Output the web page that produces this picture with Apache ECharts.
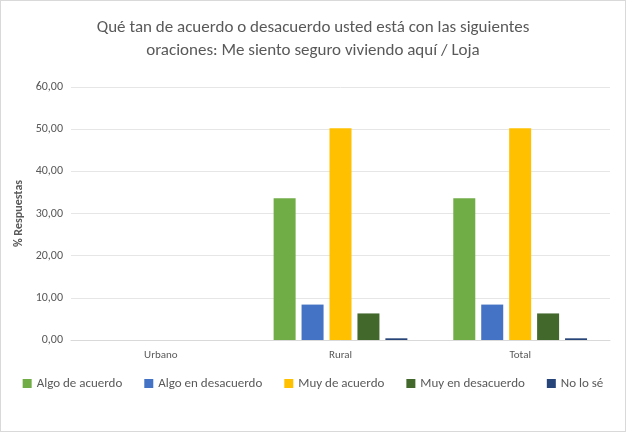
<!DOCTYPE html>
<html>
<head>
<meta charset="utf-8">
<script src="https://cdn.jsdelivr.net/npm/echarts@6/dist/echarts.min.js"></script>
<style>
  html, body { margin: 0; padding: 0; background: #fff; }
  #main { width: 624px; height: 430px; border: 1px solid #d9d9d9; }
</style>
</head>
<body>
<div id="main"></div>
<script>
var categories = ['Urbano', 'Rural', 'Total'];
var algoAcuerdo = [null, 33.6, 33.6];
var algoDesacuerdo = [null, 8.4, 8.4];
var muyAcuerdo = [null, 50.2, 50.2];
var muyDesacuerdo = [null, 6.3, 6.3];
var noLoSe = [null, 0.4, 0.4];
var yTicks = { min: 0, max: 60, interval: 10 };

var chart = echarts.init(document.getElementById('main'));

function bar(name, data, color) {
  return { name: name, type: 'bar', data: data, barWidth: 22, barGap: '27%', itemStyle: { color: color } };
}

var option = {
  textStyle: { fontFamily: 'Calibri, Carlito, "Liberation Sans", sans-serif' },
  title: {
    text: 'Qué tan de acuerdo o desacuerdo usted está con las siguientes\noraciones: Me siento seguro viviendo aquí / Loja',
    left: 'center',
    top: 10,
    textStyle: { fontSize: 17, fontWeight: 'normal', color: '#595959', lineHeight: 23 }
  },
  legend: {
    bottom: 36,
    left: 'center',
    itemWidth: 9,
    itemHeight: 9,
    itemGap: 22,
    icon: 'rect',
    textStyle: { fontSize: 13, color: '#595959' }
  },
  grid: { left: 70, right: 15, top: 86, bottom: 91 },
  xAxis: {
    type: 'category',
    data: categories,
    axisTick: { show: false },
    axisLine: { lineStyle: { color: '#d9d9d9' } },
    axisLabel: { color: '#595959', fontSize: 11, margin: 10 }
  },
  yAxis: {
    type: 'value',
    min: yTicks.min,
    max: yTicks.max,
    interval: yTicks.interval,
    name: '% Respuestas',
    nameLocation: 'middle',
    nameGap: 45,
    nameTextStyle: { color: '#595959', fontWeight: 'bold', fontSize: 12 },
    axisLabel: {
      color: '#595959', fontSize: 12,
      formatter: function (v) { return v.toFixed(2).replace('.', ','); }
    },
    splitLine: { lineStyle: { color: '#e6e6e6' } }
  },
  series: [
    bar('Algo de acuerdo', algoAcuerdo, '#70ad47'),
    bar('Algo en desacuerdo', algoDesacuerdo, '#4472c4'),
    bar('Muy de acuerdo', muyAcuerdo, '#ffc000'),
    bar('Muy en desacuerdo', muyDesacuerdo, '#43682b'),
    bar('No lo sé', noLoSe, '#264478')
  ]
};
chart.setOption(option);
</script>
</body>
</html>
